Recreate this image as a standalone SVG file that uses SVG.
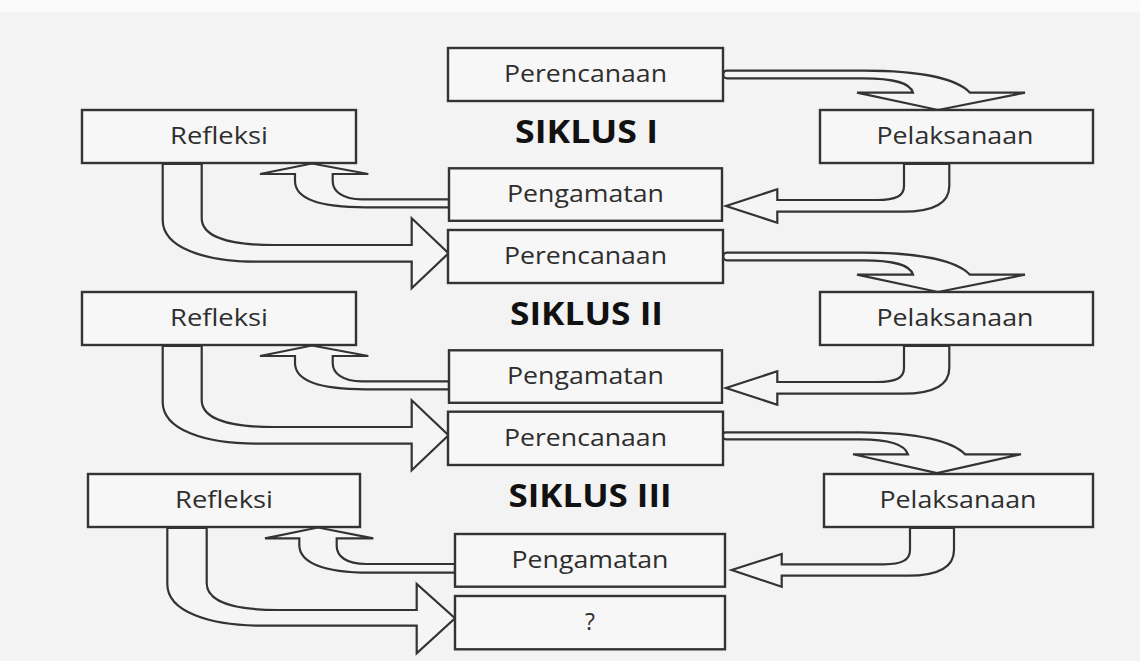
<svg xmlns="http://www.w3.org/2000/svg" width="1140" height="661" viewBox="0 0 1140 661">
<style>
.bg{fill:#f3f3f3}
.box{fill:#f7f7f7;stroke:#333;stroke-width:2.4}
.arr{fill:#f5f5f5;stroke:#333;stroke-width:2.2;stroke-linejoin:miter}
.lbl{font-family:"Open Sans","Liberation Sans",sans-serif;font-size:23px;fill:#2e2e2e;text-anchor:middle}
.cyc{font-family:"Open Sans","Liberation Sans",sans-serif;font-size:32px;font-weight:bold;fill:#111;text-anchor:middle}
</style>
<rect class="bg" x="0" y="0" width="1140" height="661"/>
<rect x="0" y="0" width="1140" height="12" fill="#fbfbfb"/>
<g id="connectors">
  <!-- Cycle I -->
  <path class="arr" d="M 727,70.7 H 863 C 925,70.7 958,80 970,92.7 H 1025 L 938,110 L 857,92.7 H 913 C 910,83 895,78.3 863,78.3 H 727 A 3.8,3.8 0 0 1 727,70.7 Z"/>
  <path class="arr" d="M 904,164 V 186 C 904,196 896,200 877,200 H 777.3 V 189.3 L 726,206 L 777.3,222.7 V 211.7 H 903 C 938,211.7 949.3,201 949.3,186 V 164 Z"/>
  <path class="arr" d="M 449,199.3 H 362 C 342,199.3 332.7,191 332.7,181 V 174 H 368.3 L 312,163.5 L 260,174 H 295 V 181 C 295,198 318,207.3 366,207.3 H 449 Z"/>
  <path class="arr" d="M 162.7,164 V 220 C 162.7,248 205,261.7 257,261.7 H 411.7 V 288.3 L 448.5,253.3 L 411.7,218.3 V 245 H 273 C 222,245 201.7,234 201.7,218 V 164 Z"/>
  <!-- Cycle II -->
  <path class="arr" transform="translate(0,182)" d="M 727,70.7 H 863 C 925,70.7 958,80 970,92.7 H 1025 L 938,110 L 857,92.7 H 913 C 910,83 895,78.3 863,78.3 H 727 A 3.8,3.8 0 0 1 727,70.7 Z"/>
  <path class="arr" transform="translate(0,182)" d="M 904,164 V 186 C 904,196 896,200 877,200 H 777.3 V 189.3 L 726,206 L 777.3,222.7 V 211.7 H 903 C 938,211.7 949.3,201 949.3,186 V 164 Z"/>
  <path class="arr" transform="translate(0,182)" d="M 449,199.3 H 362 C 342,199.3 332.7,191 332.7,181 V 174 H 368.3 L 312,163.5 L 260,174 H 295 V 181 C 295,198 318,207.3 366,207.3 H 449 Z"/>
  <path class="arr" transform="translate(0,182)" d="M 162.7,164 V 220 C 162.7,248 205,261.7 257,261.7 H 411.7 V 288.3 L 448.5,253.3 L 411.7,218.3 V 245 H 273 C 222,245 201.7,234 201.7,218 V 164 Z"/>
  <!-- Cycle III -->
  <path class="arr" d="M 726,432.3 H 860 C 920,432.3 953,442 965,454.3 H 1021 L 937,473 L 853,454.3 H 908 C 905,445 890,439.3 860,439.3 H 726 A 3.5,3.5 0 0 1 726,432.3 Z"/>
  <path class="arr" d="M 910,528 V 550 C 910,560 902,564.3 884,564.3 H 781.7 V 554 L 731.7,570 L 781.7,586.7 V 575.7 H 908 C 943,575.7 954,565 954,550 V 528 Z"/>
  <path class="arr" d="M 455,564 H 366 C 346,564 336.7,556 336.7,546 V 538.3 H 373.3 L 318,527.5 L 265,538.3 H 299.3 V 545 C 299.3,562 322,572.7 370,572.7 H 455 Z"/>
  <path class="arr" d="M 167.3,528 V 584 C 167.3,612 210,625.7 262,625.7 H 416.7 V 653.3 L 455,618.3 L 416.7,584 V 610 H 278 C 227,610 206.7,599 206.7,583 V 528 Z"/>
</g>
<g id="siklus1-perencanaan"><rect class="box" x="448" y="48" width="275" height="53"/><text class="lbl" x="585.5" y="82" textLength="163" lengthAdjust="spacingAndGlyphs">Perencanaan</text></g>
<g id="siklus1-refleksi"><rect class="box" x="82" y="110" width="274" height="53"/><text class="lbl" x="219" y="144" textLength="98" lengthAdjust="spacingAndGlyphs">Refleksi</text></g>
<g id="siklus1-label"><text class="cyc" x="586.5" y="143.3" textLength="143" lengthAdjust="spacingAndGlyphs">SIKLUS I</text></g>
<g id="siklus1-pelaksanaan"><rect class="box" x="820" y="110" width="273" height="53"/><text class="lbl" x="955" y="144" textLength="157" lengthAdjust="spacingAndGlyphs">Pelaksanaan</text></g>
<g id="siklus1-pengamatan"><rect class="box" x="449" y="168.3" width="273" height="52.5"/><text class="lbl" x="585.5" y="202" textLength="157" lengthAdjust="spacingAndGlyphs">Pengamatan</text></g>

<g id="siklus2-perencanaan"><rect class="box" x="448" y="230" width="275" height="53"/><text class="lbl" x="585.5" y="264" textLength="163" lengthAdjust="spacingAndGlyphs">Perencanaan</text></g>
<g id="siklus2-refleksi"><rect class="box" x="82" y="292" width="274" height="53"/><text class="lbl" x="219" y="326" textLength="98" lengthAdjust="spacingAndGlyphs">Refleksi</text></g>
<g id="siklus2-label"><text class="cyc" x="586.5" y="325.3" textLength="153" lengthAdjust="spacingAndGlyphs">SIKLUS II</text></g>
<g id="siklus2-pelaksanaan"><rect class="box" x="820" y="292" width="273" height="53"/><text class="lbl" x="955" y="326" textLength="157" lengthAdjust="spacingAndGlyphs">Pelaksanaan</text></g>
<g id="siklus2-pengamatan"><rect class="box" x="449" y="350.3" width="273" height="52.5"/><text class="lbl" x="585.5" y="384" textLength="157" lengthAdjust="spacingAndGlyphs">Pengamatan</text></g>

<g id="siklus3-perencanaan"><rect class="box" x="448" y="411.7" width="275" height="53.3"/><text class="lbl" x="585.5" y="446" textLength="163" lengthAdjust="spacingAndGlyphs">Perencanaan</text></g>
<g id="siklus3-refleksi"><rect class="box" x="88" y="474" width="272" height="53"/><text class="lbl" x="224" y="508" textLength="98" lengthAdjust="spacingAndGlyphs">Refleksi</text></g>
<g id="siklus3-label"><text class="cyc" x="590" y="507.3" textLength="163" lengthAdjust="spacingAndGlyphs">SIKLUS III</text></g>
<g id="siklus3-pelaksanaan"><rect class="box" x="824" y="474" width="269" height="53"/><text class="lbl" x="958" y="508" textLength="157" lengthAdjust="spacingAndGlyphs">Pelaksanaan</text></g>
<g id="siklus3-pengamatan"><rect class="box" x="455" y="534" width="270" height="52.7"/><text class="lbl" x="590" y="568" textLength="157" lengthAdjust="spacingAndGlyphs">Pengamatan</text></g>
<g id="next"><rect class="box" x="455" y="596" width="270" height="53.3"/><text class="lbl" x="590" y="630">?</text></g>
</svg>
